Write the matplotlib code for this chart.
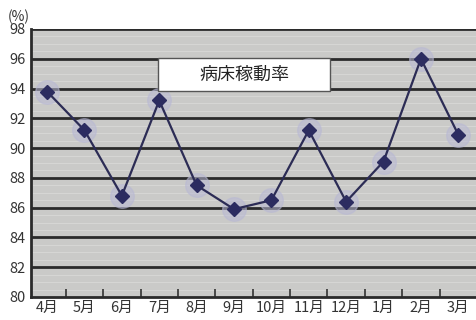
import matplotlib.pyplot as plt
import matplotlib.patches as mpatches
import numpy as np

plt.rcParams['font.family'] = ['Noto Sans CJK JP', 'DejaVu Sans']

months = ["4月", "5月", "6月", "7月", "8月", "9月", "10月", "11月", "12月", "1月", "2月", "3月"]
occupancy = [93.8, 91.2, 86.8, 93.2, 87.5, 85.9, 86.5, 91.2, 86.4, 89.1, 96.0, 90.9]
y_ticks = [80, 82, 84, 86, 88, 90, 92, 94, 96, 98]

fig = plt.figure(figsize=(4.77, 3.2), dpi=100)
ax = fig.add_axes([31 / 477, 23 / 320, 446 / 477, 268 / 320])
ax.set_facecolor("#cacac8")

x = np.arange(len(months))

# faint striping between the major gridlines
for yv in np.arange(80.5, 98, 0.5):
    ax.axhline(yv, color="#d6d6d4", lw=0.8, zorder=0)
for yv in y_ticks[1:]:
    ax.axhline(yv, color="#2b2b2b", lw=2.0, zorder=1)

# soft halo behind the markers
ax.plot(x, occupancy, linestyle="none", marker="o", ms=17,
        color="#b8b8d4", alpha=0.55, zorder=2)
ax.plot(x, occupancy, color="#2c2c55", lw=1.6, marker="D", ms=7,
        markerfacecolor="#2c2c60", markeredgecolor="#2c2c60", zorder=3)

ax.set_xlim(-0.43, 11.48)
ax.set_ylim(80, 98)
ax.set_yticks(y_ticks)
ax.set_yticklabels([str(v) for v in y_ticks], fontsize=10.5, color="#333333")
ax.set_xticks(x)
ax.set_xticklabels(months, fontsize=10.5, color="#333333")
ax.set_xticks(x + 0.5, minor=True)
ax.tick_params(axis="x", which="major", length=0, pad=3)
ax.tick_params(axis="x", which="minor", length=6, width=1.2, direction="in", color="#333333")
ax.tick_params(axis="y", length=0, pad=4)

for side in ["top", "right"]:
    ax.spines[side].set_visible(False)
for side in ["left", "bottom"]:
    ax.spines[side].set_linewidth(2.0)
    ax.spines[side].set_color("#2b2b2b")

# title box sitting between the 96 and 94 gridlines
box = mpatches.Rectangle((0.285, 0.767), 0.385, 0.123, transform=ax.transAxes,
                         facecolor="white", edgecolor="#555555", lw=1.0, zorder=5)
ax.add_patch(box)
ax.text(0.478, 0.828, "病床稼動率", transform=ax.transAxes, fontsize=13,
        ha="center", va="center", color="#222222", zorder=6)

fig.text(8 / 477, 1 - 17 / 320, "(%)", fontsize=10, ha="left", va="center",
         color="#333333")

fig.savefig("out.png", dpi=100)
